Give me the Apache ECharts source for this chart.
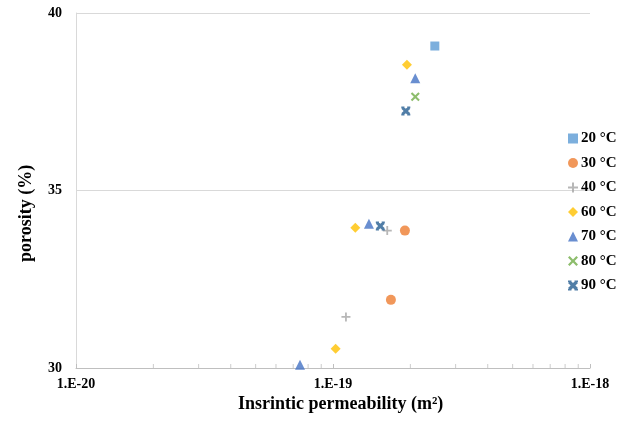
<!DOCTYPE html>
<html><head><meta charset="utf-8">
<script src="https://cdn.jsdelivr.net/npm/echarts@6/dist/echarts.min.js"></script>
<style>html,body{margin:0;padding:0;background:#fff}#c{width:628px;height:428px}</style>
</head><body><div id="c"></div>
<script>
const seriesNames = ['20 °C','30 °C','40 °C','60 °C','70 °C','80 °C','90 °C'];
const s20 = [[2.49e-19, 39.07]];
const s30 = [[1.905e-19, 33.87],[1.68e-19, 31.92]];
const s40 = [[1.626e-19, 33.87],[1.123e-19, 31.44]];
const s60 = [[1.94e-19, 38.54],[1.221e-19, 33.95],[1.024e-19, 30.54]];
const s70 = [[2.09e-19, 38.16],[1.38e-19, 34.06],[7.44e-20, 30.09]];
const s80 = [[2.09e-19, 37.64]];
const s90 = [[1.92e-19, 37.24],[1.528e-19, 34.0]];
const minorTickValues = [2e-20,3e-20,4e-20,5e-20,6e-20,7e-20,8e-20,9e-20,2e-19,3e-19,4e-19,5e-19,6e-19,7e-19,8e-19,9e-19];
const yTicks = [30, 35, 40];
const xName = 'Insrintic permeability (m²)';
const yName = 'porosity (%)';

const colors = ['#5B9BD5','#ED7D31','#A5A5A5','#FFC000','#4472C4','#70AD47','#255E91'];
const symbols = [
  'rect',
  'circle',
  'path://M4,0h2v4h4v2h-4v4h-2v-4h-4v-2h4z',
  'diamond',
  'triangle',
  'path://M0,1.6L1.6,0L5,3.4L8.4,0L10,1.6L6.6,5L10,8.4L8.4,10L5,6.6L1.6,10L0,8.4L3.4,5Z',
  'path://M0,0h3.5v1.6h-3.5z M6.5,0h3.5v1.6h-3.5z M0,8.4h3.5v1.6h-3.5z M6.5,8.4h3.5v1.6h-3.5z M0,2.4L2.4,0L5,2.6L7.6,0L10,2.4L7.4,5L10,7.6L7.6,10L5,7.4L2.4,10L0,7.6L2.6,5Z'
];
const sizes = [9, 10, 9, 10, 10, 9, 9];
const allData = [s20,s30,s40,s60,s70,s80,s90];
const font = '"Liberation Serif", "Times New Roman", serif';

const chart = echarts.init(document.getElementById('c'));
const series = allData.map((d,i)=>({
  name: seriesNames[i], type:'scatter', data:d, symbol:symbols[i], symbolSize:sizes[i],
  itemStyle:{color:colors[i]}, z:3
}));
series.push({
  name:'_ticks', type:'scatter', silent:true, symbol:'rect', symbolSize:[1,4], symbolOffset:[0,-2],
  itemStyle:{color:'#BFBFBF'}, data: minorTickValues.map(v=>[v, yTicks[0]]), z:1
});
chart.setOption({
  animation:false,
  grid:{left:76, right:38, top:13, bottom:60},
  xAxis:{
    type:'log', logBase:10, min:1e-20, max:1e-18,
    axisLine:{show:true, lineStyle:{color:'#BFBFBF', width:1}},
    axisTick:{show:true, inside:true, length:4, lineStyle:{color:'#BFBFBF'}},
    splitLine:{show:false},
    axisLabel:{
      margin:9, color:'#000', fontFamily:font, fontWeight:'bold', fontSize:14,
      formatter:function(v){ const e=Math.round(Math.log10(v)); return '1.E'+e; }
    }
  },
  yAxis:{
    type:'value', min:30, max:40, interval:5,
    axisLine:{show:true, lineStyle:{color:'#D9D9D9'}},
    axisTick:{show:false},
    splitLine:{show:true, lineStyle:{color:'#D9D9D9'}},
    axisLabel:{margin:14, color:'#000', fontFamily:font, fontWeight:'bold', fontSize:14}
  },
  legend:{
    orient:'vertical', left:563, top:126, itemGap:9.5, itemWidth:10, itemHeight:10,
    data: seriesNames,
    textStyle:{color:'#000', fontFamily:font, fontWeight:'bold', fontSize:15, padding:[0,0,0,-2]}
  },
  graphic:[
    {type:'text', top:395, style:{text:xName, font:'bold 18px '+font, fill:'#000'}, left:238},
    {type:'text', rotation:Math.PI/2, x:17, y:262, style:{text:yName, font:'bold 18px '+font, fill:'#000'}}
  ],
  series: series
});
</script></body></html>
